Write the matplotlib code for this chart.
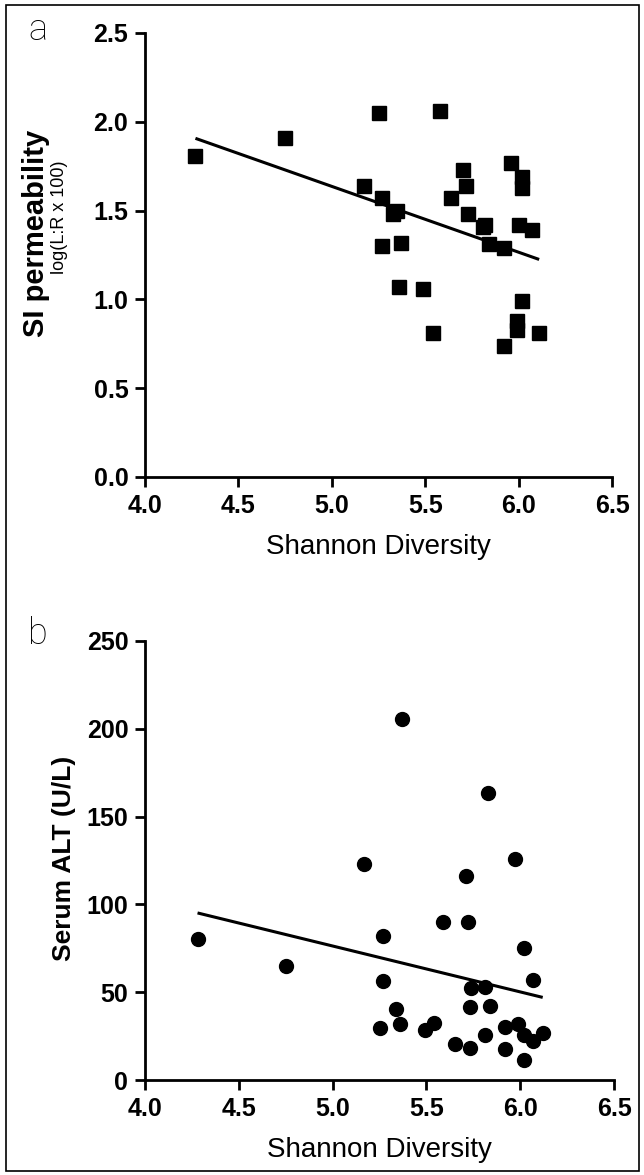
import numpy as np
import matplotlib
matplotlib.use("Agg")
import matplotlib.pyplot as plt
from matplotlib.patches import Rectangle

# ---- data ----
shannon_a = [4.27, 4.75, 5.25, 5.58, 5.17, 5.27, 5.35, 5.33, 5.27, 5.37, 5.36,
             5.49, 5.54, 5.70, 5.72, 5.64, 5.73, 5.82, 5.81, 5.84, 5.92, 5.96,
             6.02, 6.02, 6.00, 6.07, 6.02, 5.99, 5.99, 6.11, 5.92]
permeability = [1.81, 1.91, 2.05, 2.06, 1.64, 1.57, 1.50, 1.48, 1.30, 1.32, 1.07,
                1.06, 0.81, 1.73, 1.64, 1.57, 1.48, 1.42, 1.41, 1.31, 1.29, 1.77,
                1.69, 1.63, 1.42, 1.39, 0.99, 0.88, 0.83, 0.81, 0.74]

shannon_b = [5.37, 5.83, 5.17, 5.97, 5.71, 5.59, 5.72, 4.28, 5.27, 6.02, 4.75,
             5.27, 6.07, 5.74, 5.81, 5.34, 5.73, 5.84, 5.25, 5.36, 5.49, 5.54,
             5.65, 5.73, 5.81, 5.92, 5.92, 5.99, 6.02, 6.07, 6.12, 6.02]
alt = [205.5, 163.6, 122.9, 125.7, 115.9, 89.9, 89.9, 80.1, 82.0, 75.0, 65.2,
       56.1, 57.2, 52.3, 53.0, 40.5, 41.3, 42.2, 29.4, 31.8, 28.4, 32.2,
       20.3, 18.4, 25.4, 30.3, 17.4, 31.8, 25.6, 22.3, 26.5, 11.4]

xticks = [4.0, 4.5, 5.0, 5.5, 6.0, 6.5]
xticklabels = ["4.0", "4.5", "5.0", "5.5", "6.0", "6.5"]
yticks_a = [0.0, 0.5, 1.0, 1.5, 2.0, 2.5]
yticklabels_a = ["0.0", "0.5", "1.0", "1.5", "2.0", "2.5"]
yticks_b = [0, 50, 100, 150, 200, 250]
yticklabels_b = ["0", "50", "100", "150", "200", "250"]

W, H = 644, 1175
fig = plt.figure(figsize=(W / 100, H / 100), dpi=100)
plt.rcParams['font.family'] = ['Liberation Sans', 'DejaVu Sans']

def px_axes(left, top, right, bottom):
    return fig.add_axes([left / W, 1 - bottom / H, (right - left) / W, (bottom - top) / H])

ax_a = px_axes(145, 33, 612, 477)
ax_b = px_axes(145, 641, 614, 1080)

def style(ax, yt, ytl, ylim):
    ax.set_xlim(4.0, 6.5)
    ax.set_ylim(*ylim)
    ax.set_xticks(xticks)
    ax.set_xticklabels(xticklabels)
    ax.set_yticks(yt)
    ax.set_yticklabels(ytl)
    for s in ['top', 'right']:
        ax.spines[s].set_visible(False)
    for s in ['left', 'bottom']:
        ax.spines[s].set_linewidth(2.0)
    ax.tick_params(axis='both', direction='out', length=7, width=2.0,
                   labelsize=18, pad=5)
    for lab in ax.get_xticklabels() + ax.get_yticklabels():
        lab.set_fontweight('bold')
    ax.set_xlabel("Shannon Diversity", fontsize=20, labelpad=12)

style(ax_a, yticks_a, yticklabels_a, (0, 2.5))
style(ax_b, yticks_b, yticklabels_b, (0, 250))

# scatter
ax_a.plot(shannon_a, permeability, ls='none', marker='s', ms=10, color='black', clip_on=False)
ax_b.plot(shannon_b, alt, ls='none', marker='o', ms=10, color='black', clip_on=False)

# regression lines
for ax, xs, ys in [(ax_a, shannon_a, permeability), (ax_b, shannon_b, alt)]:
    xs = np.asarray(xs); ys = np.asarray(ys)
    m, c = np.polyfit(xs, ys, 1)
    xx = np.array([xs.min(), xs.max()])
    ax.plot(xx, m * xx + c, color='black', lw=2.2, solid_capstyle='butt')

# y labels
fig.text(36 / W, 1 - 233 / H, "SI permeability", rotation=90, fontsize=21,
         fontweight='bold', ha='center', va='center')
fig.text(60 / W, 1 - 217 / H, "log(L:R x 100)", rotation=90, fontsize=13,
         ha='center', va='center')
fig.text(64 / W, 1 - 858 / H, "Serum ALT (U/L)", rotation=90, fontsize=19,
         fontweight='bold', ha='center', va='center')

# panel letters
fig.text(38 / W, 1 - 30 / H, "a", fontsize=26, family=['Roboto', 'DejaVu Sans'],
         fontweight='light', ha='center', va='center')
fig.text(38 / W, 1 - 634 / H, "b", fontsize=26, family=['Roboto', 'DejaVu Sans'],
         fontweight='light', ha='center', va='center')

# figure border
fig.patches.append(Rectangle((6 / W, 4 / H), (W - 11) / W, (H - 9) / H,
                             transform=fig.transFigure, fill=False,
                             edgecolor='black', lw=1.2))

fig.savefig("out.png", dpi=100)
